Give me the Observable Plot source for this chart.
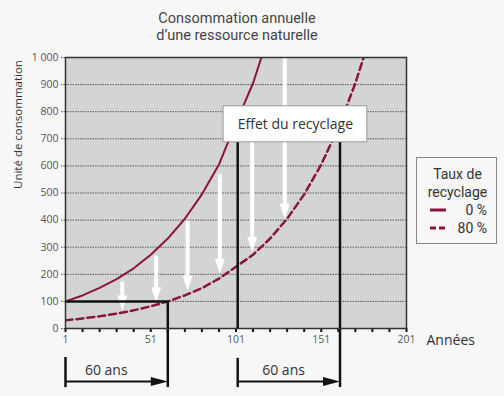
<!DOCTYPE html>
<html><head><meta charset="utf-8">
<script src="https://cdn.jsdelivr.net/npm/d3@7"></script>
<script src="https://cdn.jsdelivr.net/npm/@observablehq/plot@0.6"></script>
<style>
html,body{margin:0;padding:0;background:#f7f7f7;}
body{font-family:"Open Sans",sans-serif;}
#wrap{position:relative;width:504px;height:396px;overflow:hidden;}
#chart{position:absolute;left:0;top:0;}
#title{position:absolute;left:0;width:474px;top:10px;text-align:center;font-family:Roboto,sans-serif;font-size:14.5px;color:#444;}
#title div{height:17px;line-height:17px;}
#legend{position:absolute;left:416px;top:157px;width:81px;height:87px;box-sizing:border-box;border:1px solid #888;color:#333;font-family:Roboto,sans-serif;font-size:14px;padding-top:7px;}
#legend .h{text-align:center;line-height:18px;height:18px;padding-left:2px;}
#legend .row{position:relative;height:18px;line-height:18px;}
#legend .row svg{position:absolute;left:12px;top:6px;}
#legend .row span{position:absolute;right:9px;top:0px;}
</style>
</head>
<body>
<div id="wrap">
  <div id="chart"></div>
  <div id="title"><div>Consommation annuelle</div><div>d’une ressource naturelle</div></div>
  <div id="legend"></div>
</div>
<script>
// ---- data ----
const years0 = [1, 11, 21, 31, 41, 51, 61, 71, 81, 91, 101, 111, 121];
const conso0 = [100, 122, 150, 182, 222, 272, 332, 405, 495, 605, 760, 905, 1100];
const years80 = [1, 11, 21, 31, 41, 51, 61, 71, 81, 91, 101, 111, 121, 131, 141, 151, 161, 171, 181];
const conso80 = [30, 37, 45, 55, 67, 82, 100, 122, 149, 184, 228, 272, 332, 405, 495, 605, 740, 905, 1100];
const seriesNames = ["0 %", "80 %"];
const arrowYears = [34.3, 54.2, 72.6, 91.5, 110.5, 129.6];
const arrowFrom = [173, 269, 398, 571, 800, 1000];
const arrowTo = [66, 97, 140, 202, 282, 405];
const xTicks = d3.range(1, 202, 10);
const yTicks = d3.range(0, 1001, 100);
const gridTicks = d3.range(100, 901, 100);
const boxLabel = "Effet du recyclage";
const boxX = [93.7, 178];
const boxY = [687, 820];
// black annotation lines (years / consumption units)
const vYears = [61, 102, 162, 1, 102];
const vFrom = [100, 687, 687, -107, -110];
const vTo = [-218, 0, -218, -218, -218];
const spanStart = [1, 102];
const spanEnd = [61, 162];
const spanLevel = -196;
const spanLabelYears = [24.9, 128.9];
const spanLabelLevel = -155;
const spanLabel = "60 ans";
const baseLevel = 100;

// ---- tables ----
const s0 = years0.map((y, i) => ({year: y, v: conso0[i]}));
const s80 = years80.map((y, i) => ({year: y, v: conso80[i]}));
const arrows = arrowYears.map((x, i) => ({x, from: arrowFrom[i], to: arrowTo[i]}));
const vlines = vYears.map((x, i) => ({x, y1: vFrom[i], y2: vTo[i]}));
const spans = spanStart.map((s, i) => ({x1: s, x2: spanEnd[i], y: spanLevel}));
const spanLabels = spanLabelYears.map(x => ({x, y: spanLabelLevel, t: spanLabel}));

const red = "#8a1538";
const frFmt = d3.formatLocale({thousands: "\u00a0", grouping: [3], decimal: ","}).format(",d");
const headDown = {draw(ctx) { ctx.moveTo(0, 0); ctx.lineTo(-5, -15); ctx.lineTo(5, -15); ctx.closePath(); }};
const headRight = {draw(ctx) { ctx.moveTo(0, 0); ctx.lineTo(-17, -4.5); ctx.lineTo(-17, 4.5); ctx.closePath(); }};

const chart = Plot.plot({
  width: 504, height: 396,
  marginTop: 57, marginBottom: 68, marginLeft: 65, marginRight: 98,
  style: {background: "transparent", fontFamily: "Open Sans", overflow: "visible"},
  x: {domain: [1, 201]},
  y: {domain: [0, 1000]},
  marks: [
    Plot.frame({fill: "#d3d4d6", stroke: "none"}),
    Plot.gridY({ticks: gridTicks, stroke: "#5a5a5a", strokeOpacity: 1, strokeDasharray: "1.5,1"}),
    Plot.axisY({ticks: yTicks, tickFormat: frFmt, tickSize: 4, tickPadding: 3, stroke: "#5a5a5a", strokeDasharray: "1.5,1", fill: "#555", fontSize: 10.5, label: null}),
    Plot.axisX({ticks: xTicks, tickFormat: d => (d - 1) % 50 === 0 ? String(d) : "", tickSize: 4, tickPadding: 3, stroke: "#111", strokeWidth: 2, fill: "#555", fontSize: 10.5, label: null}),
    Plot.line(s0, {x: "year", y: "v", stroke: red, strokeWidth: 2, clip: true}),
    Plot.line(s80, {x: "year", y: "v", stroke: red, strokeWidth: 2.5, strokeDasharray: "7,4", clip: true}),
    Plot.arrow(arrows, {x: "x", y1: "from", y2: "to", stroke: "white", strokeWidth: 4, strokeLinecap: "butt", headLength: 0, insetEnd: 10}),
    Plot.dot(arrows, {x: "x", y: "to", symbol: headDown, fill: "white", stroke: "none"}),
    Plot.ruleY([baseLevel], {x1: spanStart[0], x2: spanEnd[0], stroke: "#111", strokeWidth: 2.5}),
    Plot.ruleX(vlines, {x: "x", y1: "y1", y2: "y2", stroke: "#111", strokeWidth: 2.5}),
    Plot.arrow(spans, {x1: "x1", x2: "x2", y: "y", stroke: "#111", strokeWidth: 2, strokeLinecap: "butt", headLength: 0, insetEnd: 12}),
    Plot.dot(spans, {x: "x2", y: "y", symbol: headRight, fill: "#111", stroke: "none"}),
    Plot.text(spanLabels, {x: "x", y: "y", text: "t", fontSize: 14, fill: "#333"}),
    Plot.rect([0], {x1: boxX[0], x2: boxX[1], y1: boxY[0], y2: boxY[1], fill: "white", stroke: "#999", strokeWidth: 1}),
    Plot.text([boxLabel], {x: (boxX[0] + boxX[1]) / 2, y: (boxY[0] + boxY[1]) / 2, text: d => d, fontSize: 14, fill: "#333"}),
    Plot.frame({stroke: "#333", strokeWidth: 1.5}),
    Plot.text(["Années"], {frameAnchor: "bottom-right", dx: 20, dy: 12, textAnchor: "start", lineAnchor: "middle", text: d => d, fontSize: 14, fill: "#333"}),
    Plot.text(["Unité de consommation"], {frameAnchor: "left", dx: -47, dy: -4, rotate: -90, text: d => d, fontSize: 11.5, fill: "#333"})
  ]
});
document.getElementById("chart").appendChild(chart);

// legend
const lg = document.getElementById("legend");
lg.innerHTML = '<div class="h">Taux de</div><div class="h">recyclage</div>' +
  seriesNames.map((n, i) => '<div class="row"><svg width="18" height="6"><line x1="1" x2="17" y1="3" y2="3" stroke="' + red + '" stroke-width="3"' +
    (i === 1 ? ' stroke-dasharray="6,3"' : '') + '/></svg><span>' + n + '</span></div>').join("");
</script>
</body></html>
